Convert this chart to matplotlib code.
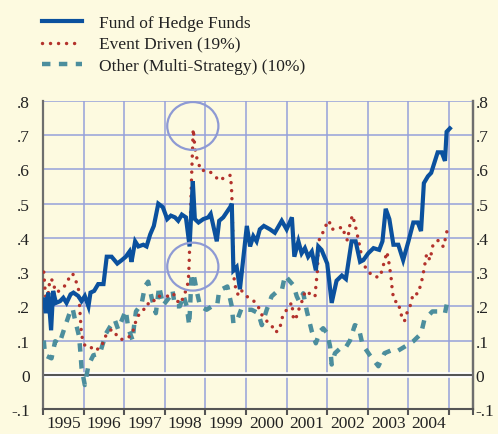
import matplotlib
matplotlib.use('Agg')
import matplotlib.pyplot as plt
from matplotlib.patches import Ellipse

plt.rcParams['font.family'] = ['Liberation Serif', 'DejaVu Serif']

# series (decimal year, value)
fof_dates = [1995.02, 1995.07, 1995.13, 1995.20, 1995.25, 1995.32, 1995.42, 1995.50, 1995.58, 1995.68,
             1995.75, 1995.87, 1995.95, 1996.03, 1996.12, 1996.17, 1996.26, 1996.36, 1996.49, 1996.57,
             1996.69, 1996.83, 1996.94, 1997.04, 1997.13, 1997.18, 1997.27, 1997.35, 1997.47, 1997.55,
             1997.64, 1997.73, 1997.84, 1997.95, 1998.06, 1998.15, 1998.25, 1998.33, 1998.42, 1998.52,
             1998.61, 1998.69, 1998.74, 1998.83, 1998.95, 1999.07, 1999.13, 1999.28, 1999.34, 1999.44,
             1999.61, 1999.65, 1999.69, 1999.77, 1999.85, 2000.02, 2000.10, 2000.18, 2000.26, 2000.34,
             2000.44, 2000.59, 2000.71, 2000.88, 2001.00, 2001.13, 2001.19, 2001.29, 2001.37, 2001.45,
             2001.53, 2001.62, 2001.72, 2001.78, 2001.86, 2002.00, 2002.11, 2002.23, 2002.36, 2002.46,
             2002.60, 2002.70, 2002.81, 2002.89, 2003.01, 2003.14, 2003.28, 2003.36, 2003.44, 2003.53,
             2003.63, 2003.75, 2003.87, 2004.00, 2004.12, 2004.23, 2004.31, 2004.38, 2004.48, 2004.56,
             2004.64, 2004.72, 2004.82, 2004.90, 2004.94, 2005.02]
fof_values = [0.22, 0.18, 0.24, 0.13, 0.245, 0.21, 0.215, 0.225, 0.21, 0.235,
              0.24, 0.23, 0.215, 0.23, 0.20, 0.24, 0.245, 0.265, 0.265, 0.345,
              0.345, 0.325, 0.335, 0.345, 0.36, 0.33, 0.39, 0.375, 0.38, 0.375,
              0.41, 0.435, 0.50, 0.49, 0.455, 0.465, 0.46, 0.45, 0.468, 0.46,
              0.375, 0.565, 0.455, 0.445, 0.455, 0.46, 0.47, 0.39, 0.45, 0.46,
              0.49, 0.50, 0.305, 0.315, 0.25, 0.435, 0.375, 0.405, 0.39, 0.425,
              0.435, 0.425, 0.415, 0.45, 0.425, 0.46, 0.345, 0.39, 0.355, 0.37,
              0.345, 0.36, 0.305, 0.375, 0.365, 0.325, 0.21, 0.275, 0.29, 0.28,
              0.39, 0.39, 0.33, 0.335, 0.355, 0.37, 0.365, 0.39, 0.485, 0.455,
              0.38, 0.38, 0.335, 0.39, 0.445, 0.445, 0.42, 0.56, 0.58, 0.59,
              0.62, 0.65, 0.65, 0.625, 0.71, 0.72]

event_dates = [1995.02, 1995.05, 1995.09, 1995.15, 1995.17, 1995.25, 1995.30, 1995.37, 1995.52, 1995.62,
               1995.73, 1995.87, 1995.91, 1995.95, 1996.03, 1996.14, 1996.26, 1996.43, 1996.55, 1996.69,
               1996.82, 1996.91, 1997.08, 1997.20, 1997.32, 1997.46, 1997.55, 1997.68, 1997.80, 1997.92,
               1998.09, 1998.21, 1998.29, 1998.39, 1998.54, 1998.58, 1998.60, 1998.66, 1998.70, 1998.74,
               1998.77, 1998.83, 1998.88, 1999.07, 1999.21, 1999.34, 1999.51, 1999.62, 1999.65, 1999.67,
               1999.69, 1999.71, 1999.77, 1999.85, 1999.89, 2000.02, 2000.18, 2000.30, 2000.36, 2000.49,
               2000.63, 2000.71, 2000.82, 2000.90, 2001.02, 2001.13, 2001.17, 2001.23, 2001.29, 2001.37,
               2001.41, 2001.50, 2001.62, 2001.70, 2001.72, 2001.76, 2001.78, 2001.82, 2001.92, 2002.00,
               2002.05, 2002.09, 2002.19, 2002.38, 2002.44, 2002.50, 2002.56, 2002.62, 2002.68, 2002.77,
               2002.85, 2002.91, 2003.01, 2003.16, 2003.30, 2003.36, 2003.47, 2003.51, 2003.57, 2003.61,
               2003.67, 2003.74, 2003.84, 2003.90, 2003.96, 2004.04, 2004.12, 2004.23, 2004.29, 2004.34,
               2004.38, 2004.45, 2004.53, 2004.61, 2004.74, 2004.86, 2004.90, 2004.98]
event_values = [0.30, 0.25, 0.20, 0.257, 0.28, 0.275, 0.243, 0.243, 0.257, 0.278,
                0.296, 0.257, 0.185, 0.115, 0.086, 0.086, 0.07, 0.08, 0.115, 0.133,
                0.115, 0.103, 0.106, 0.121, 0.17, 0.185, 0.208, 0.206, 0.23, 0.229,
                0.23, 0.238, 0.217, 0.208, 0.252, 0.275, 0.325, 0.58, 0.718, 0.666,
                0.64, 0.62, 0.597, 0.597, 0.584, 0.567, 0.58, 0.583, 0.53, 0.433,
                0.334, 0.276, 0.238, 0.232, 0.246, 0.229, 0.217, 0.20, 0.18, 0.159,
                0.145, 0.124, 0.13, 0.17, 0.194, 0.211, 0.16, 0.165, 0.188, 0.211,
                0.232, 0.246, 0.229, 0.229, 0.258, 0.305, 0.378, 0.404, 0.42, 0.447,
                0.45, 0.427, 0.424, 0.432, 0.406, 0.392, 0.44, 0.466, 0.442, 0.393,
                0.345, 0.32, 0.301, 0.286, 0.286, 0.31, 0.359, 0.335, 0.287, 0.238,
                0.214, 0.214, 0.168, 0.156, 0.18, 0.20, 0.238, 0.236, 0.258, 0.281,
                0.306, 0.354, 0.335, 0.383, 0.393, 0.374, 0.393, 0.437]

other_dates = [1995.02, 1995.05, 1995.21, 1995.30, 1995.40, 1995.54, 1995.67, 1995.73, 1995.79, 1995.89,
               1995.93, 1995.95, 1996.03, 1996.12, 1996.24, 1996.40, 1996.55, 1996.65, 1996.77, 1996.85,
               1997.04, 1997.10, 1997.21, 1997.24, 1997.29, 1997.43, 1997.51, 1997.59, 1997.68, 1997.78,
               1997.86, 1997.96, 1998.15, 1998.19, 1998.25, 1998.37, 1998.46, 1998.54, 1998.60, 1998.62,
               1998.66, 1998.72, 1998.79, 1998.87, 1999.03, 1999.16, 1999.29, 1999.34, 1999.54, 1999.65,
               1999.69, 1999.77, 1999.89, 1999.93, 2000.14, 2000.30, 2000.39, 2000.51, 2000.63, 2000.76,
               2000.88, 2000.96, 2001.17, 2001.25, 2001.31, 2001.41, 2001.50, 2001.62, 2001.72, 2001.82,
               2001.90, 2002.00, 2002.07, 2002.11, 2002.19, 2002.32, 2002.44, 2002.56, 2002.68, 2002.77,
               2002.87, 2003.05, 2003.26, 2003.41, 2003.59, 2003.71, 2003.92, 2004.12, 2004.31, 2004.39,
               2004.59, 2004.78, 2004.90, 2004.98]
other_values = [0.10, 0.057, 0.048, 0.098, 0.09, 0.14, 0.185, 0.194, 0.16, 0.112,
                0.053, 0.02, -0.03, 0.028, 0.057, 0.062, 0.12, 0.14, 0.16, 0.133,
                0.188, 0.136, 0.10, 0.14, 0.185, 0.208, 0.258, 0.272, 0.223, 0.18,
                0.258, 0.203, 0.232, 0.246, 0.20, 0.20, 0.232, 0.20, 0.145, 0.19,
                0.296, 0.287, 0.243, 0.20, 0.19, 0.20, 0.203, 0.246, 0.258, 0.20,
                0.15, 0.156, 0.194, 0.19, 0.19, 0.18, 0.145, 0.19, 0.229, 0.243,
                0.246, 0.29, 0.261, 0.229, 0.214, 0.238, 0.185, 0.127, 0.092, 0.127,
                0.136, 0.121, 0.083, 0.03, 0.063, 0.077, 0.077, 0.10, 0.145, 0.14,
                0.088, 0.057, 0.025, 0.063, 0.072, 0.068, 0.083, 0.098, 0.12, 0.16,
                0.185, 0.185, 0.18, 0.228]

series_labels = ['Fund of Hedge Funds', 'Event Driven (19%)', 'Other (Multi-Strategy) (10%)']
years = list(range(1995, 2005))
ytick_values = [-0.1, 0, 0.1, 0.2, 0.3, 0.4, 0.5, 0.6, 0.7, 0.8]
ytick_labels = ['-.1', '0', '.1', '.2', '.3', '.4', '.5', '.6', '.7', '.8']

# circled episode (Aug/Sep 1998)
highlight_date = 1998.69
highlight_levels = [0.727, 0.316]

bg = '#FDFAE0'
grid_col = '#95A1DA'
blue = '#0B519E'
red = '#B3322C'
teal = '#4C8E9D'

fig = plt.figure(figsize=(4.98, 4.35), dpi=100, facecolor=bg)
ax = fig.add_axes([0.0863, 0.0575, 0.8635, 0.708])
ax.set_facecolor(bg)

ax.set_xlim(1995, 2005.59)
ax.set_ylim(-0.1, 0.8)

# grid
for yv in ytick_values:
    ax.axhline(yv, color=grid_col, lw=1.1, zorder=1)
for yr in years[1:] + [2005]:
    ax.axvline(yr, color=grid_col, lw=1.1, zorder=1)
ax.axhline(0, color='white', lw=4, zorder=2)
ax.axhline(-0.002, color='#555555', lw=1.5, zorder=2)

ax.plot(fof_dates, fof_values, color=blue, lw=3.0, solid_joinstyle='miter', zorder=5,
        label=series_labels[0])
ax.plot(event_dates, event_values, color=red, lw=2.5, linestyle=(0, (0.01, 2.3)),
        dash_capstyle='round', zorder=4, label=series_labels[1])
ax.plot(other_dates, other_values, color=teal, lw=3.2, linestyle=(0, (1.9, 1.9)),
        dash_capstyle='butt', zorder=3, label=series_labels[2])

for lev in highlight_levels:
    ax.add_patch(Ellipse((highlight_date, lev), 1.26, 0.14, fill=False,
                         edgecolor='#8E9AD4', lw=1.6, zorder=6))

# axes frame
for s in ['left', 'right']:
    ax.spines[s].set_color('#6E6E6E')
    ax.spines[s].set_linewidth(1.6)
ax.spines['bottom'].set_color('#555555')
ax.spines['bottom'].set_linewidth(1.5)
ax.spines['top'].set_visible(False)

ax.set_yticks(ytick_values)
ax.set_yticklabels(ytick_labels)
ax.tick_params(axis='y', left=False, right=False, labelleft=True, labelright=False,
               labelsize=12.5, pad=6, labelcolor='#222222')

# right-hand copy of the value labels, closer to the frame
sec = ax.secondary_yaxis('right')
sec.set_yticks(ytick_values)
sec.set_yticklabels(ytick_labels)
sec.tick_params(length=0, pad=2, labelsize=12.5, labelcolor='#222222')
sec.spines['right'].set_color('#6E6E6E')
sec.spines['right'].set_linewidth(1.6)

ax.set_xticks([y + 0.5 for y in years])
ax.set_xticklabels([str(y) for y in years])
ax.set_xticks(years + [2005, 2005.59], minor=True)
ax.tick_params(axis='x', which='major', length=0, labelsize=12.5, pad=4, labelcolor='#222222')
ax.tick_params(axis='x', which='minor', length=4, width=1.5, color='#555555', direction='out')

fig.legend(loc='upper left', bbox_to_anchor=(0.07, 0.979), frameon=False, fontsize=12.5,
           handlelength=2.3, handletextpad=1.0, labelspacing=0.3, borderaxespad=0,
           labelcolor='#222222')

fig.savefig('out.png', dpi=100, facecolor=bg)
